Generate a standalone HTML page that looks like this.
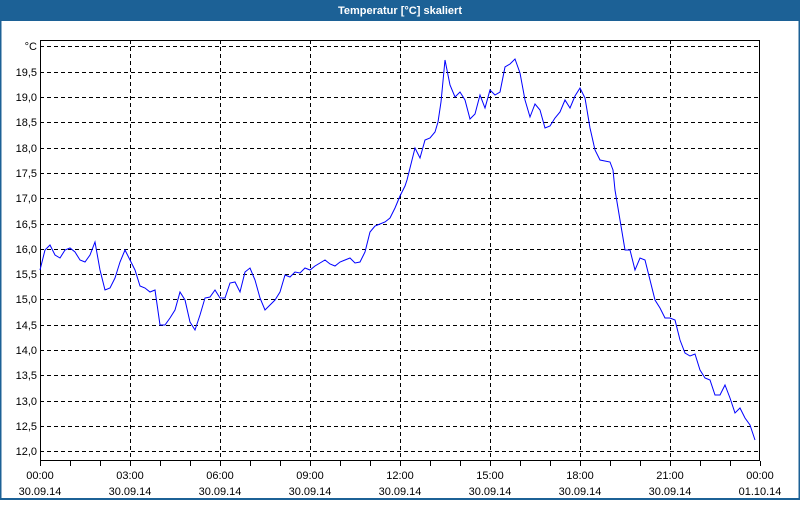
<!DOCTYPE html>
<html><head><meta charset="utf-8"><style>
html,body{margin:0;padding:0;background:#fff}
body{width:800px;height:500px;overflow:hidden;font-family:"Liberation Sans",sans-serif}
</style></head><body>
<svg width="800" height="500" xmlns="http://www.w3.org/2000/svg" font-family="Liberation Sans, sans-serif" font-size="11">
<rect x="0" y="0" width="800" height="500" fill="#fff"/>
<rect x="0" y="0" width="800" height="20" fill="#1c6196"/>
<text x="400" y="14" fill="#fff" font-weight="bold" font-size="11" text-anchor="middle">Temperatur [°C] skaliert</text>
<rect x="0.5" y="20" width="799" height="479" fill="none" stroke="#1c6196" stroke-width="2"/>
<g stroke="#000" stroke-dasharray="4,3" stroke-width="1">
<line x1="40" x2="760" y1="46.5" y2="46.5"/>
<line x1="40" x2="760" y1="72.5" y2="72.5"/>
<line x1="40" x2="760" y1="97.5" y2="97.5"/>
<line x1="40" x2="760" y1="122.5" y2="122.5"/>
<line x1="40" x2="760" y1="148.5" y2="148.5"/>
<line x1="40" x2="760" y1="173.5" y2="173.5"/>
<line x1="40" x2="760" y1="198.5" y2="198.5"/>
<line x1="40" x2="760" y1="224.5" y2="224.5"/>
<line x1="40" x2="760" y1="249.5" y2="249.5"/>
<line x1="40" x2="760" y1="274.5" y2="274.5"/>
<line x1="40" x2="760" y1="299.5" y2="299.5"/>
<line x1="40" x2="760" y1="325.5" y2="325.5"/>
<line x1="40" x2="760" y1="350.5" y2="350.5"/>
<line x1="40" x2="760" y1="375.5" y2="375.5"/>
<line x1="40" x2="760" y1="401.5" y2="401.5"/>
<line x1="40" x2="760" y1="426.5" y2="426.5"/>
<line x1="40" x2="760" y1="451.5" y2="451.5"/>
<line x1="130.5" x2="130.5" y1="40" y2="461"/>
<line x1="220.5" x2="220.5" y1="40" y2="461"/>
<line x1="310.5" x2="310.5" y1="40" y2="461"/>
<line x1="400.5" x2="400.5" y1="40" y2="461"/>
<line x1="490.5" x2="490.5" y1="40" y2="461"/>
<line x1="580.5" x2="580.5" y1="40" y2="461"/>
<line x1="670.5" x2="670.5" y1="40" y2="461"/>
</g>
<rect x="40.5" y="40.5" width="719" height="420" fill="none" stroke="#000"/>
<g stroke="#000">
<line x1="40.5" x2="40.5" y1="461" y2="466"/><line x1="70.5" x2="70.5" y1="461" y2="466"/><line x1="100.5" x2="100.5" y1="461" y2="466"/><line x1="130.5" x2="130.5" y1="461" y2="466"/><line x1="160.5" x2="160.5" y1="461" y2="466"/><line x1="190.5" x2="190.5" y1="461" y2="466"/><line x1="220.5" x2="220.5" y1="461" y2="466"/><line x1="250.5" x2="250.5" y1="461" y2="466"/><line x1="280.5" x2="280.5" y1="461" y2="466"/><line x1="310.5" x2="310.5" y1="461" y2="466"/><line x1="340.5" x2="340.5" y1="461" y2="466"/><line x1="370.5" x2="370.5" y1="461" y2="466"/><line x1="400.5" x2="400.5" y1="461" y2="466"/><line x1="430.5" x2="430.5" y1="461" y2="466"/><line x1="460.5" x2="460.5" y1="461" y2="466"/><line x1="490.5" x2="490.5" y1="461" y2="466"/><line x1="520.5" x2="520.5" y1="461" y2="466"/><line x1="550.5" x2="550.5" y1="461" y2="466"/><line x1="580.5" x2="580.5" y1="461" y2="466"/><line x1="610.5" x2="610.5" y1="461" y2="466"/><line x1="640.5" x2="640.5" y1="461" y2="466"/><line x1="670.5" x2="670.5" y1="461" y2="466"/><line x1="700.5" x2="700.5" y1="461" y2="466"/><line x1="730.5" x2="730.5" y1="461" y2="466"/><line x1="760.5" x2="760.5" y1="461" y2="466"/>
</g>
<g text-anchor="end" fill="#000">
<text x="37" y="50">°C</text>
<text x="37" y="76">19,5</text><text x="37" y="101">19,0</text><text x="37" y="126">18,5</text><text x="37" y="152">18,0</text><text x="37" y="177">17,5</text><text x="37" y="202">17,0</text><text x="37" y="228">16,5</text><text x="37" y="253">16,0</text><text x="37" y="278">15,5</text><text x="37" y="303">15,0</text><text x="37" y="329">14,5</text><text x="37" y="354">14,0</text><text x="37" y="379">13,5</text><text x="37" y="405">13,0</text><text x="37" y="430">12,5</text><text x="37" y="455">12,0</text>
</g>
<g text-anchor="middle" fill="#000">
<text x="40" y="479">00:00</text><text x="40" y="495">30.09.14</text>
<text x="130" y="479">03:00</text><text x="130" y="495">30.09.14</text>
<text x="220" y="479">06:00</text><text x="220" y="495">30.09.14</text>
<text x="310" y="479">09:00</text><text x="310" y="495">30.09.14</text>
<text x="400" y="479">12:00</text><text x="400" y="495">30.09.14</text>
<text x="490" y="479">15:00</text><text x="490" y="495">30.09.14</text>
<text x="580" y="479">18:00</text><text x="580" y="495">30.09.14</text>
<text x="670" y="479">21:00</text><text x="670" y="495">30.09.14</text>
<text x="760" y="479">00:00</text><text x="760" y="495">01.10.14</text>
</g>
<polyline fill="none" stroke="#0000ff" stroke-width="1" points="40,270 45,250 50,245 55,255 60,258 65,250 70,248 75,252 80,260 85,262 90,255 95,242 100,270 105,290 110,288 115,278 120,262 125,250 130,260 135,270 140,286 145,288 150,292 155,290 160,325 165,325 170,318 175,310 180,292 185,300 190,322 195,330 200,315 205,298 210,297 215,290 220,298 225,298 230,283 235,282 240,292 245,272 250,268 255,280 260,298 265,310 270,305 275,300 280,292 285,275 290,277 295,272 300,273 305,268 310,270 315,266 320,263 325,260 330,264 335,266 340,262 345,260 350,258 355,263 360,262 365,252 370,232 375,226 380,224 385,222 390,218 395,208 400,196 405,186 407,180 410,168 415,148 420,158 425,140 430,138 435,132 438,122 441,102 445,60 450,85 455,97 460,92 465,100 470,119 475,114 480,95 485,108 490,90 495,95 500,92 505,67 510,64 515,59 520,73 525,100 530,117 535,104 540,110 545,128 550,126 555,118 560,112 565,100 570,108 575,96 580,88 585,98 590,128 595,150 600,160 610,162 613,170 615,190 620,220 625,250 630,250 635,270 640,258 645,260 650,280 655,300 660,308 665,318 670,318 675,320 680,340 685,353 690,356 695,354 700,370 705,378 710,380 715,395 720,395 725,385 730,398 735,413 740,408 745,418 750,425 755,440"/>
</svg>
</body></html>
